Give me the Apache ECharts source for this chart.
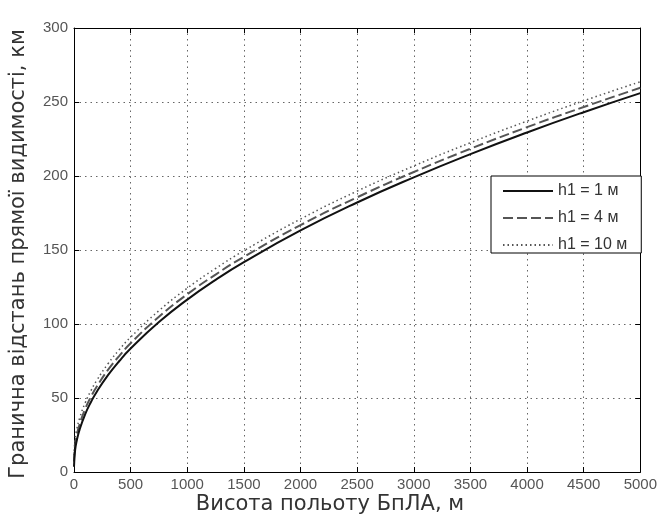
<!DOCTYPE html>
<html>
<head>
<meta charset="utf-8">
<script src="https://cdn.jsdelivr.net/npm/echarts@6/dist/echarts.min.js"></script>
<style>
  html, body { margin: 0; padding: 0; background: #fff; }
  #chart { width: 660px; height: 522px; }
</style>
</head>
<body>
<div id="chart"></div>
<script>
// flight altitude of the UAV, m
const heights = [0, 10, 25, 50, 100, 150, 200, 300, 400, 500, 750, 1000, 1250, 1500, 2000, 2500, 3000, 3500, 4000, 4500, 5000];
// limit line-of-sight distance, km
const rangeH1 = [3.6, 14.9, 21.4, 28.8, 39.3, 47.3, 54.1, 65.4, 75.0, 83.4, 101.3, 116.5, 129.8, 141.8, 163.2, 182.1, 199.1, 214.8, 229.4, 243.1, 256.0];
const rangeH4 = [7.1, 18.4, 25.0, 32.4, 42.8, 50.9, 57.6, 69.0, 78.5, 87.0, 104.9, 120.1, 133.4, 145.4, 166.8, 185.6, 202.7, 218.4, 233.0, 246.6, 259.6];
const rangeH10 = [11.3, 22.6, 29.1, 36.5, 47.0, 55.0, 61.8, 73.1, 82.7, 91.1, 109.0, 124.2, 137.5, 149.5, 170.9, 189.8, 206.8, 222.5, 237.1, 250.8, 263.7];
const seriesNames = ["h1 = 1 м", "h1 = 4 м", "h1 = 10 м"];

const pairs = (ys) => heights.map((h, i) => [h, ys[i]]);

const chart = echarts.init(document.getElementById("chart"));

const tickFont = {
  color: "#555",
  fontFamily: "Liberation Sans",
  fontSize: 15,
};
const gridDots = { color: "#666", type: [1.5, 4], width: 1 };
const frameAxis = (position, isX) => ({
  type: "value",
  position: position,
  min: 0,
  max: isX ? 5000 : 300,
  interval: isX ? 500 : 50,
  axisLine: { show: true, onZero: false, lineStyle: { color: "#000", width: 1 } },
  axisTick: { show: true, inside: true, length: 5, lineStyle: { color: "#000" } },
  axisLabel: { show: false },
  splitLine: { show: false },
});

chart.setOption({
  backgroundColor: "#fff",
  animation: false,
  grid: {
    left: 74,
    right: 18,
    top: 28,
    bottom: 50,
  },
  xAxis: [
    {
      type: "value",
      min: 0,
      max: 5000,
      interval: 500,
      axisLine: { onZero: false, lineStyle: { color: "#000", width: 1 } },
      axisTick: { inside: true, length: 5, lineStyle: { color: "#000" } },
      axisLabel: Object.assign({ margin: 5, formatter: (v) => String(v) }, tickFont),
      splitLine: { show: true, lineStyle: gridDots },
    },
    frameAxis("top", true),
  ],
  yAxis: [
    {
      type: "value",
      min: 0,
      max: 300,
      interval: 50,
      axisLine: { show: true, onZero: false, lineStyle: { color: "#000", width: 1 } },
      axisTick: { show: true, inside: true, length: 5, lineStyle: { color: "#000" } },
      axisLabel: Object.assign({ margin: 6 }, tickFont),
      splitLine: { show: true, lineStyle: gridDots },
    },
    frameAxis("right", false),
  ],
  legend: {
    data: seriesNames,
    orient: "vertical",
    left: 491,
    top: 176,
    padding: [7, 14, 0, 11],
    itemWidth: 50,
    itemHeight: 14,
    itemGap: 11,
    backgroundColor: "#fff",
    borderColor: "#000",
    borderWidth: 1,
    borderRadius: 0,
    itemStyle: { opacity: 0 },
    textStyle: {
      color: "#333",
      fontFamily: "Liberation Sans",
      fontSize: 16,
      lineHeight: 14,
    },
  },
  graphic: [
    {
      type: "text",
      x: 330,
      y: 505,
      style: {
        text: "Висота польоту БпЛА, м",
        fill: "#333",
        font: '21px "DejaVu Sans"',
        align: "center",
        verticalAlign: "middle",
      },
    },
    {
      type: "text",
      x: 19,
      y: 254,
      rotation: Math.PI / 2,
      style: {
        text: "Гранична відстань прямої видимості, км",
        fill: "#333",
        font: '21px "DejaVu Sans"',
        align: "center",
        verticalAlign: "middle",
      },
    },
  ],
  series: [
    {
      name: seriesNames[0],
      type: "line",
      data: pairs(rangeH1),
      smooth: true,
      symbol: "none",
      z: 4,
      lineStyle: { color: "#111", width: 2 },
      itemStyle: { color: "#111" },
    },
    {
      name: seriesNames[1],
      type: "line",
      data: pairs(rangeH4),
      smooth: true,
      symbol: "none",
      z: 3,
      lineStyle: { color: "#555", width: 2, type: [10, 4] },
      itemStyle: { color: "#555" },
    },
    {
      name: seriesNames[2],
      type: "line",
      data: pairs(rangeH10),
      smooth: true,
      symbol: "none",
      z: 2,
      lineStyle: { color: "#555", width: 1.5, type: [1.5, 3] },
      itemStyle: { color: "#555" },
    },
  ],
});
</script>
</body>
</html>
